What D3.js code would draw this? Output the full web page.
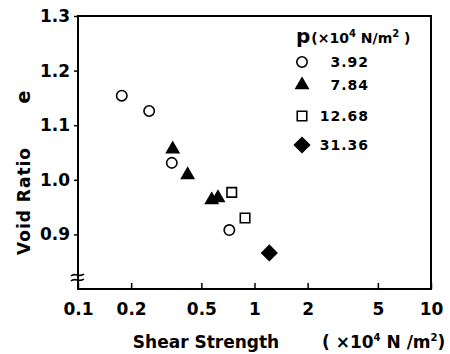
<!DOCTYPE html>
<html><head><meta charset="utf-8">
<script src="https://cdn.jsdelivr.net/npm/d3@7"></script>
<style>
body{margin:0;background:#fff;}
text{font-family:"DejaVu Sans",sans-serif;font-weight:bold;fill:#000;}
</style></head>
<body><svg id="c" width="450" height="354"></svg>
<script>
// ---- data ----
const xTicks = [0.1, 0.2, 0.5, 1, 2, 5, 10];
const xTickLabels = ["0.1", "0.2", "0.5", "1", "2", "5", "10"];
const yTicks = [0.9, 1.0, 1.1, 1.2, 1.3];
const yTickLabels = ["0.9", "1.0", "1.1", "1.2", "1.3"];
const seriesNames = ["3.92", "7.84", "12.68", "31.36"];
const s392_x = [0.177, 0.253, 0.340, 0.720];
const s392_y = [1.154, 1.126, 1.031, 0.908];
const s784_x = [0.344, 0.418, 0.572, 0.621];
const s784_y = [1.056, 1.009, 0.963, 0.967];
const s1268_x = [0.743, 0.884];
const s1268_y = [0.977, 0.930];
const s3136_x = [1.213];
const s3136_y = [0.866];

const FONT = "DejaVu Sans, sans-serif";
const svg = d3.select("#c");
const L = 78, R = 431, T = 16, B = 289;
const x = d3.scaleLog().domain([0.1, 10]).range([L, R]);
const y = d3.scaleLinear().domain([0.8, 1.3]).range([B, T]);

// frame
svg.append("rect").attr("x", L).attr("y", T).attr("width", R - L).attr("height", B - T)
  .attr("fill", "none").attr("stroke", "#000").attr("stroke-width", 2);

// x axis (ticks inward)
const xa = svg.append("g").attr("transform", `translate(0,${B})`)
  .call(d3.axisBottom(x).tickValues(xTicks).tickSizeInner(-6).tickSizeOuter(0)
    .tickFormat((d, i) => xTickLabels[i]));
xa.select(".domain").remove();
xa.selectAll(".tick line").attr("stroke-width", 1.5);
xa.selectAll(".tick text").attr("y", 14).attr("dy", "0.71em").style("font-size", "17px")
  .style("font-family", FONT).style("font-weight", "bold");

// y axis (ticks outward)
const ya = svg.append("g").attr("transform", `translate(${L},0)`)
  .call(d3.axisLeft(y).tickValues(yTicks).tickSize(4).tickPadding(4)
    .tickFormat((d, i) => yTickLabels[i]));
ya.select(".domain").remove();
ya.selectAll(".tick line").attr("stroke-width", 1.5);
ya.selectAll(".tick text").style("font-size", "17px")
  .style("font-family", FONT).style("font-weight", "bold");

// axis break marks
[275, 280].forEach(yy => {
  svg.append("path")
    .attr("d", `M${L-7},${yy+1} C${L-3},${yy-3} ${L+1},${yy+3} ${L+6},${yy-1}`)
    .attr("fill", "none").attr("stroke", "#000").attr("stroke-width", 1.6);
});

// symbols
const sym = {
  circle: d3.symbol().type(d3.symbolCircle).size(85)(),
  triangle: d3.symbol().type(d3.symbolTriangle).size(64)(),
  square: d3.symbol().type(d3.symbolSquare).size(90)(),
  diamond: d3.symbol().type(d3.symbolSquare).size(112)()
};
const styles = [
  {d: sym.circle, fill: "#fff", stroke: "#000", rot: 0},
  {d: sym.triangle, fill: "#000", stroke: "#000", rot: 0},
  {d: sym.square, fill: "#fff", stroke: "#000", rot: 0},
  {d: sym.diamond, fill: "#000", stroke: "#000", rot: 45}
];
const series = [[s392_x, s392_y], [s784_x, s784_y], [s1268_x, s1268_y], [s3136_x, s3136_y]];
series.forEach((s, k) => {
  const pts = s[0].map((v, i) => [v, s[1][i]]);
  svg.append("g").selectAll("path").data(pts).join("path")
    .attr("d", styles[k].d)
    .attr("transform", d => `translate(${x(d[0])},${y(d[1])}) rotate(${styles[k].rot})`)
    .attr("fill", styles[k].fill).attr("stroke", styles[k].stroke).attr("stroke-width", 1.6);
});

// legend
const lg = svg.append("g");
const hdr = lg.append("text").attr("x", 296).attr("y", 43);
hdr.append("tspan").text("p").style("font-size", "20px");
hdr.append("tspan").text("(×10").style("font-size", "14px").attr("dx", 1);
hdr.append("tspan").text("4").style("font-size", "10px").attr("dy", -6);
hdr.append("tspan").text(" N/m").style("font-size", "14px").attr("dy", 6);
hdr.append("tspan").text("2").style("font-size", "10px").attr("dy", -6);
hdr.append("tspan").text(" )").style("font-size", "14px").attr("dy", 6);
const legY = [62, 85, 116, 145];
seriesNames.forEach((n, k) => {
  lg.append("path").attr("d", styles[k].d)
    .attr("transform", `translate(302,${legY[k]}) rotate(${styles[k].rot})`)
    .attr("fill", styles[k].fill).attr("stroke", styles[k].stroke).attr("stroke-width", 1.6);
  lg.append("text").attr("x", 369).attr("y", legY[k]).attr("dy", "0.36em")
    .attr("text-anchor", "end").style("font-size", "14px").style("letter-spacing", "1px")
    .text(n);
});

// axis titles
svg.append("text").attr("transform", "translate(30,201) rotate(-90)")
  .attr("text-anchor", "middle").style("font-size", "17px").style("letter-spacing", "1px")
  .text("Void Ratio");
svg.append("text").attr("transform", "translate(30,97) rotate(-90)")
  .attr("text-anchor", "middle").style("font-size", "19px").text("e");
svg.append("text").attr("x", 206).attr("y", 348).attr("text-anchor", "middle")
  .style("font-size", "17px").text("Shear  Strength");
const xu = svg.append("text").attr("x", 322).attr("y", 348).style("font-size", "17px");
xu.append("tspan").text("( ×10");
xu.append("tspan").text("4").style("font-size", "10px").attr("dy", -7);
xu.append("tspan").text(" N /m").attr("dy", 7);
xu.append("tspan").text("2").style("font-size", "10px").attr("dy", -7);
xu.append("tspan").text(")").attr("dy", 7);
</script></body></html>
